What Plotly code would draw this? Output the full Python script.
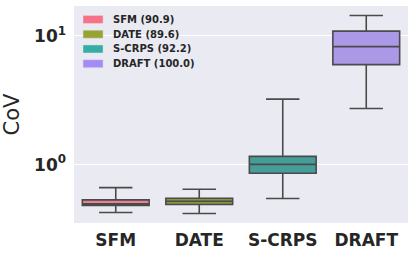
import plotly.graph_objects as go

categories = ["SFM", "DATE", "S-CRPS", "DRAFT"]
legend_labels = ["SFM (90.9)", "DATE (89.6)", "S-CRPS (92.2)", "DRAFT (100.0)"]
lower_whisker = [0.425, 0.417, 0.545, 2.73]
q1_values = [0.481, 0.490, 0.857, 5.99]
median_values = [0.496, 0.519, 1.005, 8.26]
q3_values = [0.532, 0.548, 1.16, 10.9]
upper_whisker = [0.663, 0.644, 3.23, 14.4]
palette = ["#f77189", "#97a431", "#36ada4", "#a48cf4"]
box_fills = ["#e68294", "#8c963f", "#459e97", "#ab99e7"]
tick_vals = [1, 10]
tick_text = ["10<sup>0</sup>", "10<sup>1</sup>"]

LINE = "#4a4a4a"
FONT = "DejaVu Sans"

fig = go.Figure()
for i, cat in enumerate(categories):
    fig.add_trace(go.Box(
        x=[cat],
        q1=[q1_values[i]], median=[median_values[i]], q3=[q3_values[i]],
        lowerfence=[lower_whisker[i]], upperfence=[upper_whisker[i]],
        fillcolor=box_fills[i],
        line=dict(color=LINE, width=1.6),
        width=0.8, whiskerwidth=0.5,
        boxpoints=False, showlegend=False, name=cat,
        hoverinfo="skip",
    ))

# Legend (drawn as patches + labels in paper coordinates)
shapes = []
annotations = []
y0 = 0.938
step = 0.068
ph = 0.037
for i, lab in enumerate(legend_labels):
    yc = y0 - i * step
    shapes.append(dict(type="rect", xref="paper", yref="paper",
                       x0=0.027, x1=0.087, y0=yc - ph / 2, y1=yc + ph / 2,
                       fillcolor=palette[i], line=dict(width=0.5, color="#e0e0ee")))
    annotations.append(dict(xref="paper", yref="paper", x=0.110, y=yc,
                            xanchor="left", yanchor="middle", showarrow=False,
                            text=lab,
                            font=dict(family=FONT, size=10, color="#262626", weight="bold")))

fig.update_layout(
    width=415, height=256,
    margin=dict(l=74, r=7, t=6, b=33),
    paper_bgcolor="white",
    plot_bgcolor="#eaeaf2",
    shapes=shapes,
    annotations=annotations,
    showlegend=False,
    font=dict(family=FONT, color="#262626"),
)
fig.update_xaxes(
    type="category", categoryorder="array", categoryarray=categories,
    range=[-0.5, 3.5],
    showgrid=False, zeroline=False, showline=False, ticks="",
    tickfont=dict(family=FONT, size=17, color="#262626", weight="bold"),
    ticklabelstandoff=5,
)
fig.update_yaxes(
    type="log", range=[-0.4535, 1.2326],
    tickvals=tick_vals, ticktext=tick_text,
    showgrid=True, gridcolor="white", gridwidth=1,
    zeroline=False, showline=False, ticks="",
    tickfont=dict(family=FONT, size=17, color="#262626", weight="bold"),
    ticklabelstandoff=7,
    title=dict(text="CoV", font=dict(family=FONT, size=21, color="#262626"), standoff=8),
)

fig.write_html("out.html",
               config={"displayModeBar": False, "staticPlot": True},
               post_script="document.body.style.margin='0';document.body.style.overflow='hidden';")
